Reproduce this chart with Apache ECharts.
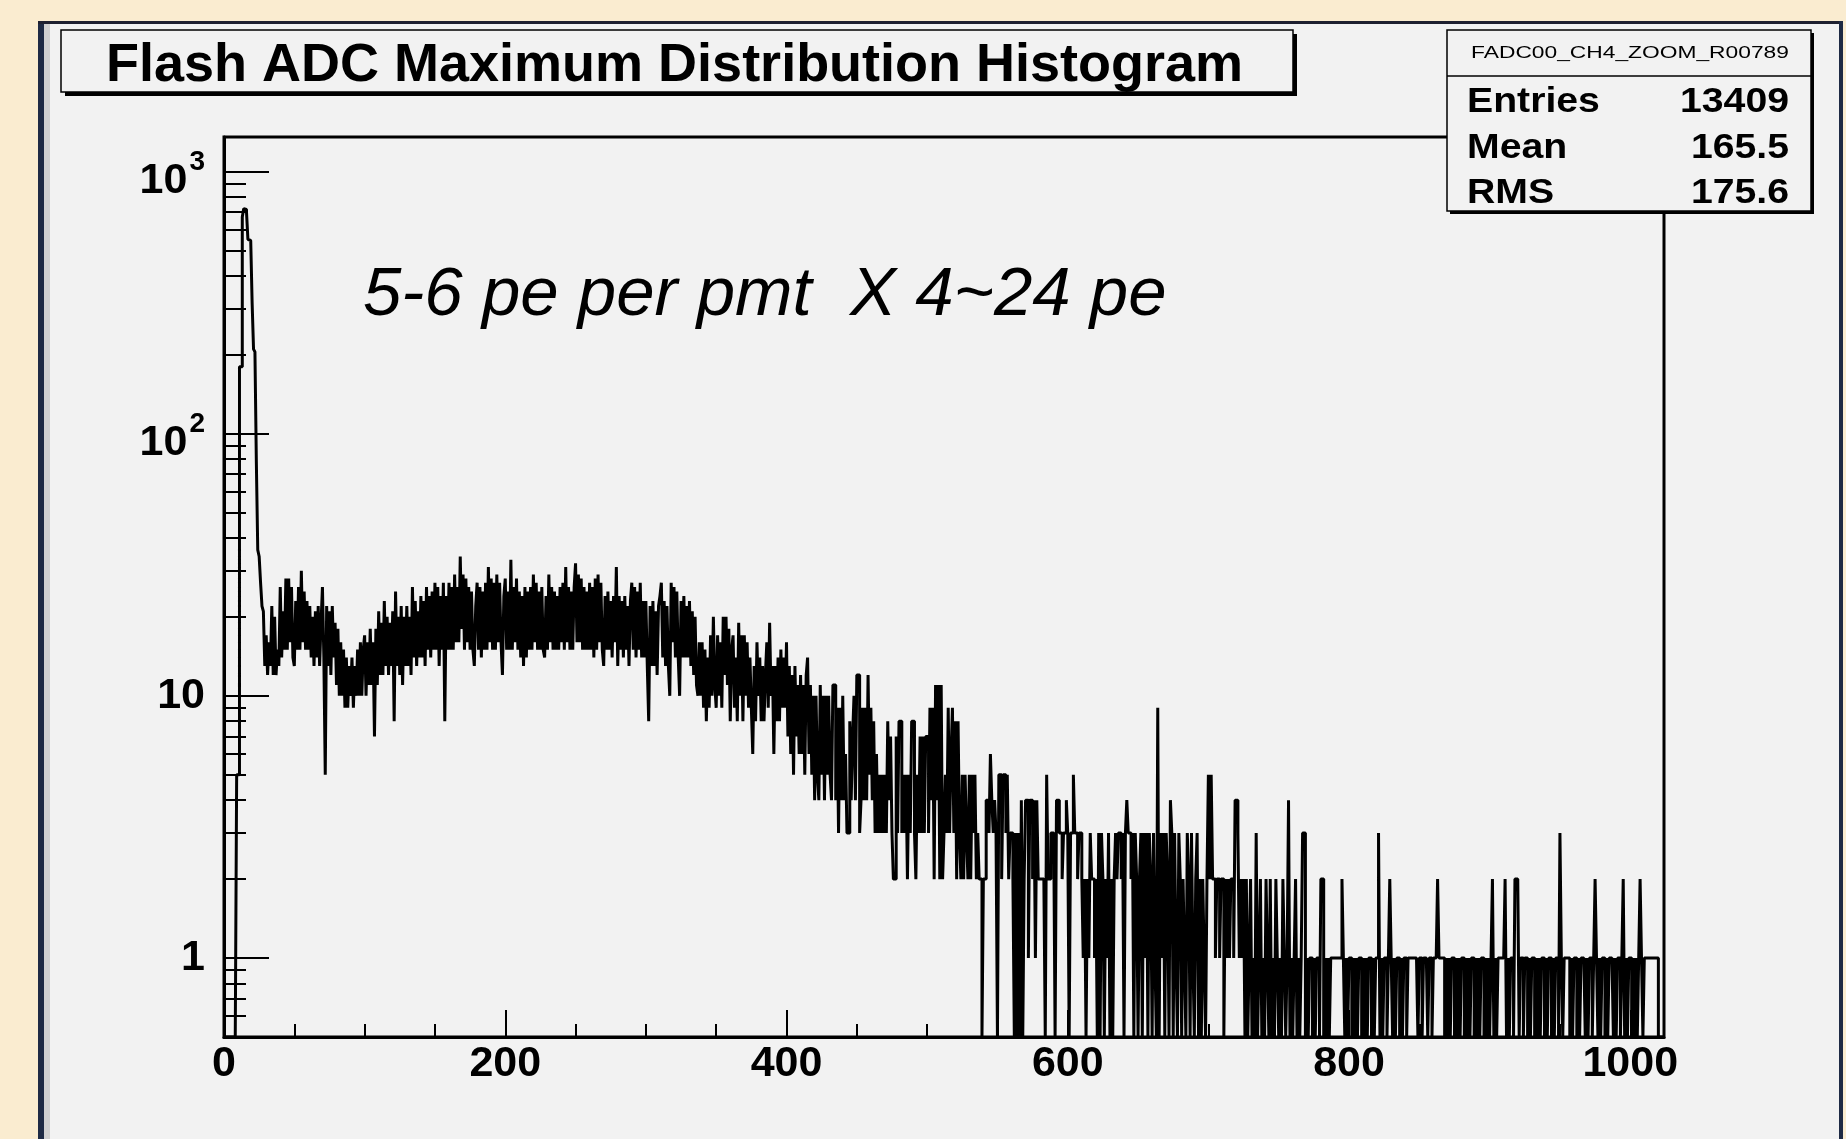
<!DOCTYPE html>
<html>
<head>
<meta charset="utf-8">
<script src="https://cdn.jsdelivr.net/npm/echarts@6/dist/echarts.min.js"></script>
<style>
html,body{margin:0;padding:0;background:#faecd0;}
#c{width:1846px;height:1139px;}
</style>
</head>
<body>
<div id="c"></div>
<script>
// ---- DATA (counts per ADC bin, bin width 1) ----
const counts000 = [
0,0,0,0,0,0,0,0,0,5, 5,180,180,670,720,715,700,550,545,540,
315,210,205,78,36,34,27,22,21,13, 17,12,16,13,22,12,20,12,15,13,
26,14,21,15,28,15,28,16,26,14, 13,23,15,26,15,30,16,25,15,23,
15,22,14,20,13,21,14,22,13,19, 26,14,5,22,13,21,12,22,14,19,
11,18,10,16,10,15,9,14,9,13, 10,14,9,13,10,15,10,16,10,15];
const counts100 = [
17,10,16,11,18,11,16,7,18,11, 21,12,19,12,23,13,20,12,19,13,
21,8,25,13,20,12,22,11,20,13, 22,13,20,12,26,14,23,13,21,14,
24,14,23,13,26,15,24,14,25,15, 27,15,26,13,24,15,27,8,24,15,
27,15,26,15,29,16,26,16,34,18, 29,15,28,16,26,15,25,15,13,22,
27,15,26,14,25,15,27,15,31,16, 28,15,27,15,29,16,27,16,12,24];
const counts200 = [
28,15,25,15,33,15,26,16,28,15, 25,14,24,13,26,14,25,15,26,15,
29,16,27,15,25,15,26,15,14,24, 15,29,16,26,15,25,15,24,15,26,
16,27,15,31,16,26,15,25,15,26, 32,16,29,16,28,15,26,15,25,15,
27,15,26,14,28,15,29,16,27,15, 13,24,15,25,15,23,14,24,16,31,
13,24,15,23,14,24,15,22,13,23, 27,15,26,14,25,15,27,14,23,14];
const counts300 = [
23,13,8,22,13,23,13,21,12,22, 24,27,14,23,13,22,13,10,27,16,
26,14,25,14,10,23,14,24,14,22, 14,23,13,21,12,20,11,10,16,10,
16,9,15,8,14,9,17,10,20,11, 9,17,10,16,9,20,12,20,11,18,
8,15,17,9,14,8,19,10,17,8, 17,10,16,9,14,9,6,13,8,16,
10,14,8,13,8,12,16,9,19,10, 13,6,13,8,14,8,15,9,14,9];
const counts400 = [
16,7,13,6,12,5,13,7,11,6, 12,6,11,5,12,14,6,11,5,10,
4,10,5,4,11,5,10,4,10,5, 10,5,4,11,11,4,9,3,9,4,
10,4,6,3,3,8,4,7,10,4, 12,12,3,4,9,4,9,4,12,5,
9,4,8,3,6,3,5,3,5,3, 5,3,8,4,7,3,2,2,7,3,
8,8,3,5,3,5,2,5,3,8, 8,3,2,5,3,7,3,7,3,7];
const counts500 = [
7,3,9,4,9,2,11,4,11,2, 11,2,3,5,3,9,3,6,9,3,
8,2,8,3,2,5,2,5,3,2, 5,2,5,3,5,2,3,2,2,0,
2,2,4,4,3,6,4,3,4,3, 0,5,5,2,5,5,3,5,2,3,
3,2,0,3,0,3,0,4,0,2, 4,4,1,4,4,2,4,1,4,2,
2,2,2,2,0,5,2,2,3,3, 3,0,4,4,3,3,2,3,3,4];
const counts600 = [
3,0,3,3,5,3,3,2,3,3, 2,1,2,0,2,1,3,2,2,1,
2,0,3,0,3,2,0,2,1,3, 0,2,0,2,3,2,3,3,2,3,
0,3,4,3,3,2,3,0,3,2, 0,2,3,0,3,1,3,0,3,2,
0,3,1,0,9,0,3,1,3,0, 3,2,0,4,3,0,3,1,0,3,
2,0,2,1,0,3,2,0,3,1, 0,2,3,0,2,0,2,1,0,2];
const counts700 = [
5,2,5,2,2,1,2,2,1,2, 2,0,2,1,2,1,2,2,1,4,
4,3,1,2,1,2,0,2,0,1, 2,0,1,0,3,0,1,2,0,1,
0,2,1,0,2,0,1,0,2,1, 0,1,0,2,1,0,1,4,0,1,
0,1,2,0,1,0,1,3,3,0, 1,0,1,1,0,1,0,1,1,0,
2,2,0,1,0,1,0,1,1,1, 1,1,1,1,1,2,1,0,1,0];
const counts800 = [
1,1,0,1,0,1,0,1,1,0, 1,0,1,0,1,1,0,1,0,1,
1,3,0,1,0,1,1,0,1,2, 1,0,1,0,1,1,0,1,0,1,
1,0,1,1,1,1,1,1,1,0, 1,1,0,1,1,1,0,1,1,0,
1,1,1,2,1,1,1,1,0,1, 0,1,0,1,1,0,1,0,1,0,
1,1,0,1,0,1,0,1,1,0, 1,0,1,0,1,1,0,1,0,1];
const counts900 = [
0,1,2,0,1,0,1,1,1,1, 1,2,0,1,0,1,1,0,2,2,
2,0,1,1,0,1,1,0,1,0, 1,1,0,1,0,1,0,1,1,0,
1,0,1,1,0,1,0,1,1,0, 3,1,0,1,1,1,1,0,1,0,
1,1,0,1,0,1,1,1,0,1, 0,1,1,0,1,2,1,0,1,0,
1,1,0,1,0,1,1,1,0,1, 0,1,1,0,1,2,0,1,0,1];
const counts1000 = [
1,0,1,0,1,0,1,2,1,0, 1,1,1,1,1,1,1,1,1,1, 0,0,0,0];

const xMajorTicks = [0, 200, 400, 600, 800, 1000];
const xMinorTicks = [50,100,150,250,300,350,450,500,550,650,700,750,850,900,950];
const yMajorTicks = [1, 10, 100, 1000];
const yMinorTicks = [0.6,0.7,0.8,0.9, 2,3,4,5,6,7,8,9, 20,30,40,50,60,70,80,90, 200,300,400,500,600,700,800,900];

const titleText = 'Flash ADC Maximum Distribution Histogram';
const statsName = 'FADC00_CH4_ZOOM_R00789';
const statsLabels = ['Entries', 'Mean', 'RMS'];
const statsValues = ['13409', '165.5', '175.6'];
const noteText = '5-6 pe per pmt  X 4~24 pe';

const X_MIN = 0, X_MAX = 1024, Y_MIN = 0.5, Y_MAX = 1352;

// ---- BUILD ----
const segs = [counts000,counts100,counts200,counts300,counts400,counts500,counts600,counts700,counts800,counts900,counts1000];
const binCounts = [].concat(...segs);
if (binCounts.length !== 1024) {
  throw new Error('bin count ' + binCounts.length + ' seg lengths ' + segs.map(s => s.length).join(','));
}
const seriesData = binCounts.map((v, i) => [i, v > 0 ? v : Y_MIN]);
seriesData.push([binCounts.length, seriesData[seriesData.length - 1][1]]);

const F = '"Liberation Sans", Arial, Helvetica, sans-serif';
const tickLine = {color: '#000', width: 2};

const chart = echarts.init(document.getElementById('c'), null, {renderer: 'canvas'});

const statsRowsY = [102, 148, 193];
const graphics = [
  // pad background
  {type: 'rect', z: -10, shape: {x: 38, y: 21, width: 1805, height: 1130}, style: {fill: '#f2f2f2'}},
  {type: 'rect', z: -9, shape: {x: 38, y: 21, width: 6, height: 1130}, style: {fill: '#1e2a44'}},
  {type: 'rect', z: -9, shape: {x: 44, y: 24, width: 6, height: 1130}, style: {fill: '#d0d0d0'}},
  {type: 'rect', z: -9, shape: {x: 38, y: 21, width: 1805, height: 3}, style: {fill: '#1e2030'}},
  {type: 'rect', z: -9, shape: {x: 1839, y: 21, width: 4, height: 1130}, style: {fill: '#1e2a44'}},
  // title box
  {type: 'rect', z: 50, shape: {x: 65, y: 34, width: 1232, height: 62}, style: {fill: '#000'}},
  {type: 'rect', z: 51, shape: {x: 61, y: 30, width: 1232, height: 62}, style: {fill: '#f2f2f2', stroke: '#000', lineWidth: 1.5}},
  {type: 'text', z: 52, x: 106, y: 66, style: {text: titleText, x: 0, y: 0, font: 'bold 54px ' + F, fill: '#000', align: 'left', verticalAlign: 'middle'}},
  // stats box
  {type: 'rect', z: 50, shape: {x: 1450, y: 33, width: 364, height: 181}, style: {fill: '#000'}},
  {type: 'rect', z: 51, shape: {x: 1447, y: 30, width: 364, height: 181}, style: {fill: '#f2f2f2', stroke: '#000', lineWidth: 1.5}},
  {type: 'line', z: 52, shape: {x1: 1447, y1: 76, x2: 1811, y2: 76}, style: {stroke: '#000', lineWidth: 1.5}},
  {type: 'text', z: 52, x: 1630, y: 53, scaleX: 1.34, style: {text: statsName, x: 0, y: 0, font: '17px ' + F, fill: '#000', align: 'center', verticalAlign: 'middle'}},
  // annotation
  {type: 'text', z: 52, x: 363, y: 296, style: {text: noteText, x: 0, y: 0, font: 'italic 69px ' + F, fill: '#000', align: 'left', verticalAlign: 'middle'}}
];
statsLabels.forEach((lab, k) => {
  graphics.push({type: 'text', z: 52, x: 1467, y: statsRowsY[k], scaleX: 1.12, style: {text: lab, x: 0, y: 0, font: 'bold 35px ' + F, fill: '#000', align: 'left', verticalAlign: 'middle'}});
  graphics.push({type: 'text', z: 52, x: 1789, y: statsRowsY[k], scaleX: 1.12, style: {text: statsValues[k], x: 0, y: 0, font: 'bold 35px ' + F, fill: '#000', align: 'right', verticalAlign: 'middle'}});
});

const option = {
  backgroundColor: '#faecd0',
  animation: false,
  grid: [
    {left: 224, top: 137, width: 1440, height: 900, show: true, borderColor: '#000', borderWidth: 3, backgroundColor: 'transparent', containLabel: false, outerBoundsMode: 'none'},
    {left: 224, top: 137, width: 1440, height: 900, show: false, containLabel: false, outerBoundsMode: 'none'}
  ],
  xAxis: [
    {gridIndex: 0, type: 'value', min: X_MIN, max: X_MAX, interval: 200, position: 'bottom',
     axisLine: {show: true, onZero: false, lineStyle: {color: '#000', width: 3}},
     axisTick: {show: true, inside: true, length: 27, customValues: xMajorTicks, lineStyle: tickLine},
     axisLabel: {show: true, customValues: xMajorTicks, color: '#000', fontSize: 43, fontWeight: 'bold', fontFamily: F, margin: 6,
       formatter: function (v) { return String(Math.round(v)); }},
     splitLine: {show: false}, minorTick: {show: false}},
    {gridIndex: 1, type: 'value', min: X_MIN, max: X_MAX, position: 'bottom',
     axisLine: {show: false, onZero: false},
     axisTick: {show: true, inside: true, length: 13, customValues: xMinorTicks, lineStyle: tickLine},
     axisLabel: {show: false}, splitLine: {show: false}}
  ],
  yAxis: [
    {gridIndex: 0, type: 'log', logBase: 10, min: Y_MIN, max: Y_MAX, position: 'left',
     axisLine: {show: true, onZero: false, lineStyle: {color: '#000', width: 3}},
     axisTick: {show: true, inside: true, length: 45, customValues: yMajorTicks, lineStyle: tickLine},
     axisLabel: {show: true, customValues: yMajorTicks, margin: 19,
       formatter: function (v) {
         const e = Math.round(Math.log10(v));
         if (e >= 2) return '{b|10}{s|' + e + '}';
         if (e === 1) return '{p|10}';
         return '{p|1}';
       },
       rich: {
         b: {fontSize: 43, fontWeight: 'bold', fontFamily: F, color: '#000', padding: [20, 0, 0, 0], verticalAlign: 'bottom'},
         s: {fontSize: 28, fontWeight: 'bold', fontFamily: F, color: '#000', padding: [8, 0, 0, 2], verticalAlign: 'top'},
         p: {fontSize: 43, fontWeight: 'bold', fontFamily: F, color: '#000'}
       }},
     splitLine: {show: false}},
    {gridIndex: 1, type: 'log', logBase: 10, min: Y_MIN, max: Y_MAX, position: 'left',
     axisLine: {show: false, onZero: false},
     axisTick: {show: true, inside: true, length: 22, customValues: yMinorTicks, lineStyle: tickLine},
     axisLabel: {show: false}, splitLine: {show: false}}
  ],
  series: [{
    type: 'line', xAxisIndex: 0, yAxisIndex: 0, data: seriesData, step: 'end',
    symbol: 'none', showSymbol: false, clip: true, silent: true, z: 3,
    lineStyle: {color: '#000', width: 3}
  }],
  graphic: {elements: graphics}
};
chart.setOption(option);
</script>
</body>
</html>
